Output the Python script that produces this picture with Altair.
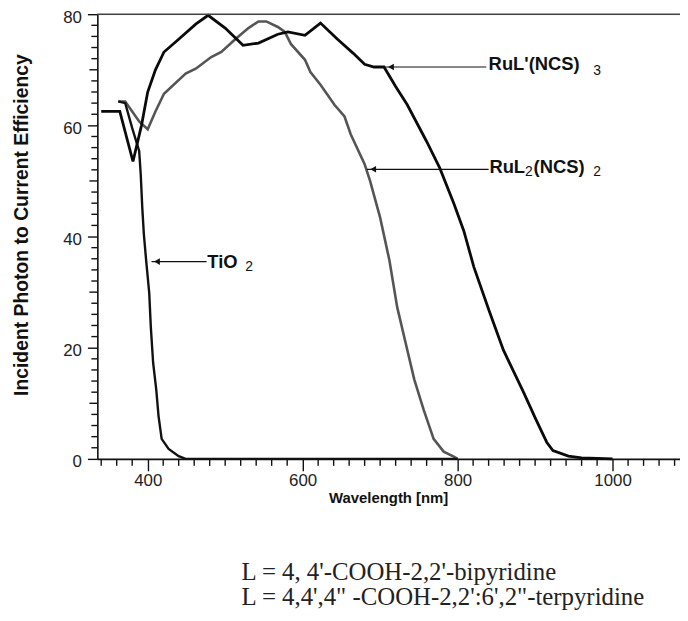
import altair as alt
import pandas as pd

# ---- data ----
rul3_nm = [340, 364, 381, 392, 400, 410, 421, 440, 462, 478, 500, 523, 543, 568, 581, 603,
           623, 645, 665, 680, 692, 705, 720, 735, 760, 777, 795, 808, 821, 841, 859, 885,
           901, 915, 923, 943, 960, 1000]
rul3_ipce = [62.5, 62.5, 53.5, 60, 66, 70, 73.2, 75.5, 78.2, 79.8, 77.5, 74.4, 74.8, 76.4, 76.8, 76.2,
             78.4, 75.5, 73, 71, 70.5, 70.5, 67, 63.7, 57.1, 52.3, 46, 41, 34.5, 26.5, 19.6, 12,
             7.1, 3, 1.5, 0.5, 0.2, 0]

rul2_nm = [362, 371, 389, 400, 410, 421, 449, 462, 482, 495, 513, 530, 543, 553, 568, 577, 585,
           603, 610, 623, 641, 654, 662, 680, 687, 700, 712, 722, 732, 744, 756, 769, 782, 795, 800]
rul2_ipce = [64.3, 64.3, 60.7, 59.3, 62.5, 65.7, 69.3, 70.2, 72.3, 73.2, 75.5, 77.5, 78.7, 78.7, 77.7,
             76.8, 74.6, 71.8, 69.6, 67.3, 63.7, 61.6, 58.4, 53, 50, 43.4, 35.7, 27.3, 21.4, 14.3,
             8.9, 3.6, 1.3, 0.4, 0]

tio2_nm = [362, 371, 380, 389, 391, 393, 395, 398, 402, 404, 407, 411, 414, 418, 427, 440, 449, 800]
tio2_ipce = [64.3, 64, 59.5, 55.4, 51.2, 45.2, 40.5, 35.7, 29.8, 23.8, 17.3, 12.5, 7.7, 3.6, 1.8,
             0.5, 0, 0]

x_major = [400, 600, 800, 1000]
x_minor = [340, 360, 380, 420, 440, 460, 480, 500, 520, 540, 560, 580, 620, 640, 660, 680, 700,
           720, 740, 760, 780, 820, 840, 860, 880, 900, 920, 940, 960, 980, 1020, 1040, 1060, 1080]
y_major = [0, 20, 40, 60, 80]
y_mid = [10, 30, 50, 70]
y_minor = [2, 4, 6, 8, 12, 14, 16, 18, 22, 24, 26, 28, 32, 34, 36, 38, 42, 44, 46, 48,
           52, 54, 56, 58, 62, 64, 66, 68, 72, 74, 76, 78]

# annotation arrows (curve point -> label)
arrow_x = [705, 683, 405]
arrow_x2 = [837, 840, 476]
arrow_y = [70.5, 52.1, 35.5]
head_x = [714, 691, 412]

label_text = ["RuL'(NCS)", "RuL", "(NCS)", "TiO"]
label_x = [840, 841, 898, 477]
label_y = [71.1, 52.5, 52.5, 35.5]
sub_text = ["3", "2", "2", "2"]
sub_x = [975, 887, 975, 526]
sub_y = [69.8, 51.6, 51.6, 34.5]

note_text = ["L = 4, 4'-COOH-2,2'-bipyridine",
             "L = 4,4',4\" -COOH-2,2':6',2\"-terpyridine"]
note_x = [521, 521]
note_y = [-20.4, -24.9]

X_LO, X_HI = 335, 1087

# ---- tables (shared field names: nm / ipce) ----
rul3 = pd.DataFrame({"nm": rul3_nm, "ipce": rul3_ipce})
rul2 = pd.DataFrame({"nm": rul2_nm, "ipce": rul2_ipce})
tio2 = pd.DataFrame({"nm": tio2_nm, "ipce": tio2_ipce})
arrows = pd.DataFrame({"nm": arrow_x, "nm2": arrow_x2, "ipce": arrow_y, "hx": head_x})
labels = pd.DataFrame({"nm": label_x, "ipce": label_y, "t": label_text})
subs = pd.DataFrame({"nm": sub_x, "ipce": sub_y, "t": sub_text})
notes = pd.DataFrame({"nm": note_x, "ipce": note_y, "t": note_text})
frame = pd.DataFrame({"nm": [X_LO], "nm2": [X_HI], "ipce": [80]})
xt = pd.DataFrame({"nm": x_minor, "ipce": [0] * len(x_minor), "ipce2": [-1.25] * len(x_minor)})
yt = pd.DataFrame({"ipce": y_minor + y_mid,
                   "nm": [X_LO] * (len(y_minor) + len(y_mid)),
                   "nm2": [X_LO - 7.7] * len(y_minor) + [X_LO - 10.2] * len(y_mid)})

FONT = "Liberation Sans"
xs = alt.Scale(domain=[X_LO, X_HI], nice=False, zero=False)
ys = alt.Scale(domain=[0, 80], nice=False)

x_axis = alt.Axis(
    values=x_major, format="d", tickSize=12,
    tickColor="#111", tickWidth=1.4, domainColor="#111", domainWidth=1.6,
    labelFont=FONT, labelFontSize=17, labelColor="#222", labelPadding=2,
    labelOverlap=False, labelFlush=False, grid=False,
    title="Wavelength [nm]", titleFont=FONT, titleFontSize=15, titleFontWeight="bold",
    titleColor="#111", titleX=293, titleY=39, titleBaseline="middle", titleAnchor="middle",
)
y_axis = alt.Axis(
    values=y_major, format="d", tickSize=10,
    tickColor="#111", tickWidth=1.4, domainColor="#111", domainWidth=1.6,
    labelFont=FONT, labelFontSize=17, labelColor="#222", labelPadding=6, labelOffset=3,
    labelOverlap=False, labelFlush=False, grid=False,
    title="Incident Photon to Current Efficiency", titleFont=FONT, titleFontSize=19.5,
    titleFontWeight="bold", titleColor="#111", titleX=-76, titleY=212,
    titleBaseline="middle", titleAnchor="middle",
)

X = alt.X("nm:Q", scale=xs, axis=x_axis)
Y = alt.Y("ipce:Q", scale=ys, axis=y_axis)

l_rul2 = alt.Chart(rul2).mark_line(color="#555555", strokeWidth=2.6).encode(x=X, y=Y)
l_tio2 = alt.Chart(tio2).mark_line(color="#111111", strokeWidth=2.4).encode(x=X, y=Y)
l_rul3 = alt.Chart(rul3).mark_line(color="#0a0a0a", strokeWidth=2.8).encode(x=X, y=Y)

top = alt.Chart(frame).mark_rule(color="#444444", strokeWidth=1.5).encode(x=X, x2="nm2:Q", y=Y)

xticks = alt.Chart(xt).mark_rule(color="#111111", strokeWidth=1.4).encode(x=X, y=Y, y2="ipce2:Q")
yticks = alt.Chart(yt).mark_rule(color="#111111", strokeWidth=1.4).encode(x=X, x2="nm2:Q", y=Y)

arrow_lines = alt.Chart(arrows).mark_rule(color="#111111", strokeWidth=1.2).encode(
    x=X, x2="nm2:Q", y=Y)
arrow_heads = alt.Chart(arrows).mark_point(shape="triangle-left", filled=True, size=45,
                                           color="#111111", opacity=1).encode(
    x=alt.X("hx:Q", scale=xs, axis=x_axis), y=Y)

lab = alt.Chart(labels).mark_text(align="left", baseline="middle", font=FONT, fontSize=18.5,
                                  fontWeight="bold", color="#111111").encode(x=X, y=Y, text="t:N")
sub = alt.Chart(subs).mark_text(align="left", baseline="middle", font=FONT, fontSize=14,
                                color="#111111").encode(x=X, y=Y, text="t:N")
note = alt.Chart(notes).mark_text(align="left", baseline="middle", font="Liberation Serif",
                                  fontSize=25, color="#222222").encode(x=X, y=Y, text="t:N")

chart = alt.layer(l_rul2, l_tio2, l_rul3, top, xticks, yticks, arrow_lines, arrow_heads,
                  lab, sub, note).properties(
    width=587, height=448,
    padding={"left": 90, "top": 4, "right": 0, "bottom": 150},
    autosize=alt.AutoSizeParams(type="none"),
).configure_view(stroke=None).configure(background="white")

chart.save("out.html", embed_options={"renderer": "svg", "actions": False})
